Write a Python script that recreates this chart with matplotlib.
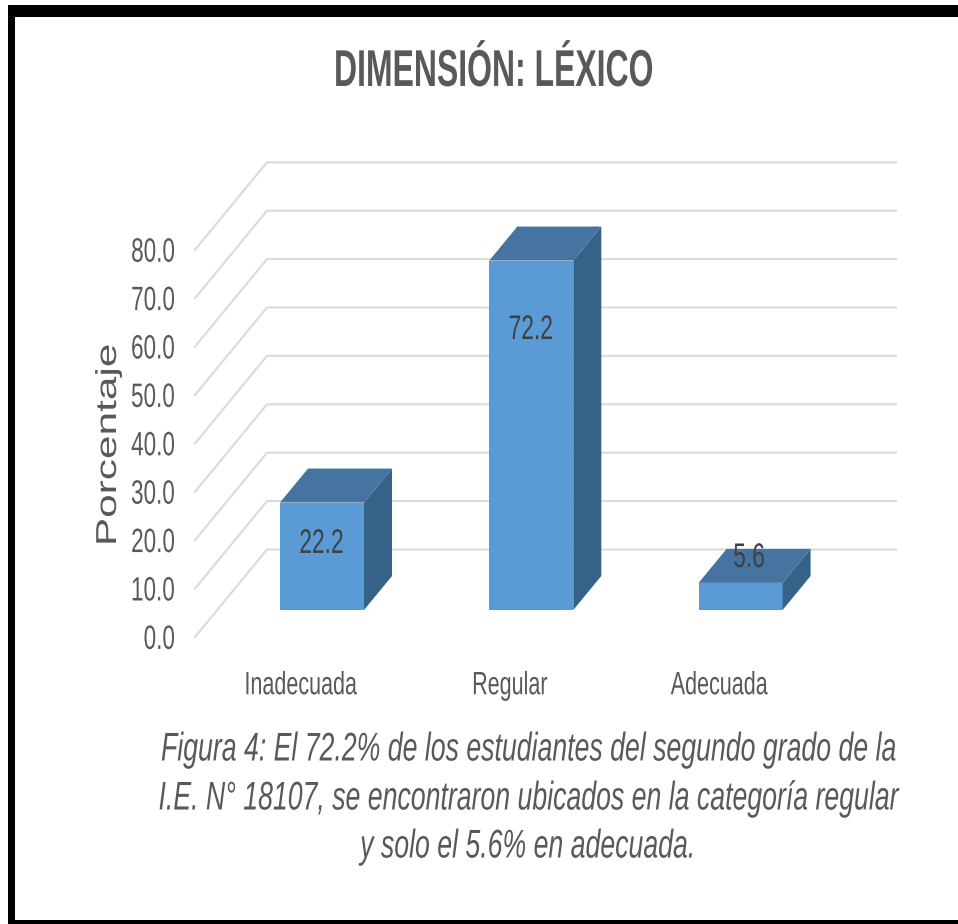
import matplotlib
matplotlib.use('Agg')
import matplotlib.pyplot as plt
from matplotlib.patches import Polygon, Rectangle
from matplotlib.patheffects import AbstractPathEffect
from matplotlib.transforms import Affine2D

# Data
categorias = ['Inadecuada', 'Regular', 'Adecuada']
porcentajes = [22.2, 72.2, 5.6]
ticks = [0, 10, 20, 30, 40, 50, 60, 70, 80]
titulo = 'DIMENSIÓN: LÉXICO'
ylabel = 'Porcentaje'
pie = ['Figura 4: El 72.2% de los estudiantes del segundo grado de la',
       'I.E. N° 18107, se encontraron ubicados en la categoría regular',
       'y solo el 5.6% en adecuada.']

W, H = 958, 924
fuente = ['Liberation Sans', 'DejaVu Sans']
gris = '#595959'


# The reference screenshot is squashed, so glyphs get stretched around the text anchor
class Estirar(AbstractPathEffect):
    def __init__(self, sx, sy, cx, cy):
        super().__init__()
        self.sx, self.sy, self.cx, self.cy = sx, sy, cx, cy

    def draw_path(self, renderer, gc, tpath, affine, rgbFace=None):
        t = affine + Affine2D().translate(-self.cx, -self.cy).scale(self.sx, self.sy).translate(self.cx, self.cy)
        renderer.draw_path(gc, tpath, t, rgbFace)


def estira(txt, sx=1.0, sy=1.5):
    cx, cy = txt.get_transform().transform(txt.get_position())
    txt.set_path_effects([Estirar(sx, sy, cx, cy)])
    return txt


fig = plt.figure(figsize=(W / 100, H / 100), dpi=100)
ax = fig.add_axes([0, 0, 1, 1])

# Scale: 209.3 px per category, 4.84 px per percent, bar base at pixel y=610
px_x = 209.3
px_y = 4.84
ax.set_xlim(-322 / px_x, (W - 322) / px_x)
ax.set_ylim((610 - H) / px_y, 610 / px_y)
ax.axis('off')

# 3D offsets in data units
bar_w = 84 / px_x
dx = 28 / px_x
dy = 34 / px_y
back_x = (267 - 322) / px_x
back_y = (610 - 549.5) / px_y
front_x = (195 - 322) / px_x
front_y = (610 - 637) / px_y
right_x = (896 - 322) / px_x

# Gridlines: floor/side diagonal then back wall
for t in ticks:
    ax.plot([front_x, back_x, right_x],
            [t + front_y, t + back_y, t + back_y],
            color='#dcdcdc', lw=1.6, solid_joinstyle='miter', zorder=1)
    estira(ax.text(front_x - 20 / px_x, t + front_y - 0.75, f'{t:.1f}', ha='right', va='center',
                   fontsize=16.2, color=gris, family=fuente))

# Bars
for i, v in enumerate(porcentajes):
    x0 = i - bar_w / 2
    x1 = i + bar_w / 2
    ax.bar(i, v, width=bar_w, color='#5b9bd5', zorder=3)
    ax.add_patch(Polygon([(x0, v), (x1, v), (x1 + dx, v + dy), (x0 + dx, v + dy)],
                         closed=True, color='#44749f', lw=0, zorder=3))
    ax.add_patch(Polygon([(x1, 0), (x1 + dx, dy), (x1 + dx, v + dy), (x1, v)],
                         closed=True, color='#376288', lw=0, zorder=3))
    estira(ax.text(i - 21.5 / px_x, -15.7, categorias[i], ha='center', va='center', fontsize=15.5,
                   color=gris, family=fuente))

# Data labels
oscuro = '#404040'
estira(ax.text(-0.003, 13.8, '22.2', ha='center', va='center', fontsize=16.4, color=oscuro, family=fuente, zorder=4))
estira(ax.text(0.997, 58, '72.2', ha='center', va='center', fontsize=16.4, color=oscuro, family=fuente, zorder=4))
estira(ax.text(2.04, 10.9, '5.6', ha='center', va='center', fontsize=16.4, color=oscuro, family=fuente, zorder=4))

# Title, axis label, caption
estira(fig.text(494 / W, 1 - 73 / H, titulo, ha='center', va='center', fontsize=23,
                fontweight='bold', color=gris, family=fuente), sy=1.62)
estira(fig.text(108.5 / W, 1 - 445 / H, ylabel, ha='center', va='center', rotation=90,
                fontsize=30.5, color=gris, family=fuente), sx=0.68, sy=1.0)
for y, linea in zip([750, 799, 847], pie):
    estira(fig.text(527 / W, 1 - y / H, linea, ha='center', va='center', fontsize=19.2,
                    style='italic', color=gris, family=fuente))

# Black frame from the screenshot (top, left, bottom)
for x, y, w, h in [(8, 5, W - 8, 12), (8, 5, 7, H - 5), (8, 920, W - 8, 4)]:
    fig.patches.append(Rectangle((x / W, 1 - (y + h) / H), w / W, h / H,
                                 transform=fig.transFigure, color='black', lw=0))

fig.savefig('out.png', dpi=100)
